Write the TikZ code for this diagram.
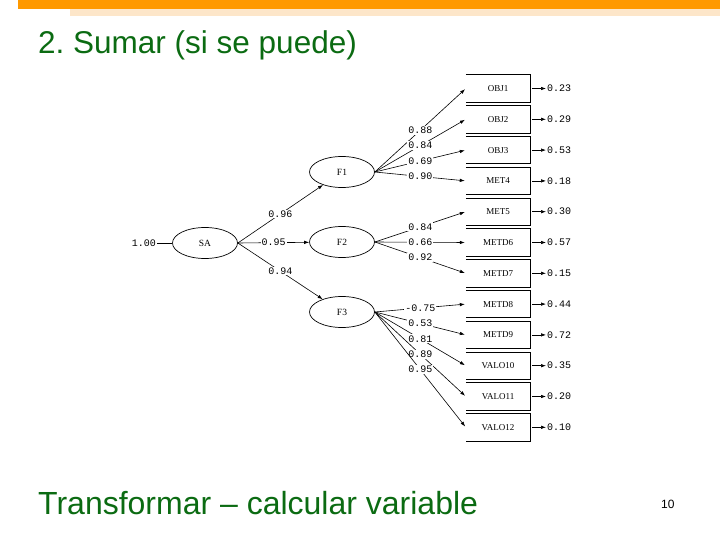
\documentclass[tikz,border=0pt]{standalone}
\usepackage{fontspec}
\setmainfont{Liberation Serif}
\setsansfont{Liberation Sans}
\setmonofont{Liberation Mono}
\usetikzlibrary{arrows.meta,positioning,shapes.geometric}
\definecolor{SLDorange}{HTML}{FF9900}
\definecolor{SLDpeach}{HTML}{FDE6C9}
\definecolor{SLDgreen}{HTML}{0B6B12}
\tikzset{latvar/.style={draw,ellipse,line width=0.7pt,minimum width=65pt,minimum height=31pt,
 inner sep=0pt,font=\rmfamily\fontsize{9.5}{10}\selectfont},
 obsbox/.style={minimum width=64pt,minimum height=27pt,inner sep=0pt,
 font=\rmfamily\fontsize{9}{10}\selectfont},
 coef/.style={fill=white,inner sep=1pt,font=\ttfamily\fontsize{10}{10}\selectfont},
 errval/.style={anchor=west,inner sep=1pt,font=\ttfamily\fontsize{10}{10}\selectfont},
 semarr/.style={-{Latex[length=5pt,width=3.5pt]},line width=0.6pt}}
\frenchspacing

\begin{document}
\begin{tikzpicture}[x=1pt,y=-1pt]
\useasboundingbox (0,0) rectangle (720,540);
% slide header and texts
\fill[SLDorange] (18,0) rectangle (720,9.5);
\fill[SLDpeach] (70,9.5) rectangle (720,16);
\node[anchor=base west,inner sep=0pt,text=SLDgreen,font=\sffamily\fontsize{31.5}{32}\selectfont] (title) at (38,54) {2. Sumar (si se puede)};
\node[anchor=base west,inner sep=0pt,text=SLDgreen,font=\sffamily\fontsize{32}{32}\selectfont] (foot) at (38,514) {Transformar -- calcular variable};
\node[anchor=base west,inner sep=0pt,font=\sffamily\fontsize{12}{12}\selectfont] (pgno) at (661,508) {10};
% latent variables
\node[latvar] (sa) at (205,243) {SA};
\node[latvar] (f1) at (342,172) {F1};
\node[latvar] (f2) at (342,242) {F2};
\node[latvar] (f3) at (342,312) {F3};
\node[coef,anchor=east] (sav) at (157,243) {1.00};
\draw[line width=0.6pt] (sav) -- (sa);
\draw[semarr] (sa.east) -- node[coef]{0.96} (f1);
\draw[semarr] (sa.east) -- node[coef]{0.95} (f2);
\draw[semarr] (sa.east) -- node[coef]{0.94} (f3);
% observed variables with error terms
\foreach \nm/\lb/\ev [count=\i from 0] in {o1/OBJ1/0.23,o2/OBJ2/0.29,o3/OBJ3/0.53,m4/MET4/0.18,
 m5/MET5/0.30,m6/METD6/0.57,m7/METD7/0.15,m8/METD8/0.44,m9/METD9/0.72,
 v10/VALO10/0.35,v11/VALO11/0.20,v12/VALO12/0.10}{
 \node[obsbox] (\nm) at (498,88.5+30.8*\i) {\lb};
 \draw[line width=0.7pt] (\nm.north west) -- (\nm.north east) -- (\nm.south east) -- (\nm.south west);
 \node[errval] (e\nm) at (546,88.5+30.8*\i) {\ev};
 \draw[semarr,shorten <=2pt] (\nm.east) -- (e\nm.west);
}
% loadings
\foreach \src/\dst/\val in {f1/o1/0.88,f1/o2/0.84,f1/o3/0.69,f1/m4/0.90,
 f2/m5/0.84,f2/m6/0.66,f2/m7/0.92,
 f3/m8/-0.75,f3/m9/0.53,f3/v10/0.81,f3/v11/0.89,f3/v12/0.95}
 \draw[semarr,shorten >=1pt] (\src.east) -- node[coef]{\val} (\dst.west);
\end{tikzpicture}
\end{document}
